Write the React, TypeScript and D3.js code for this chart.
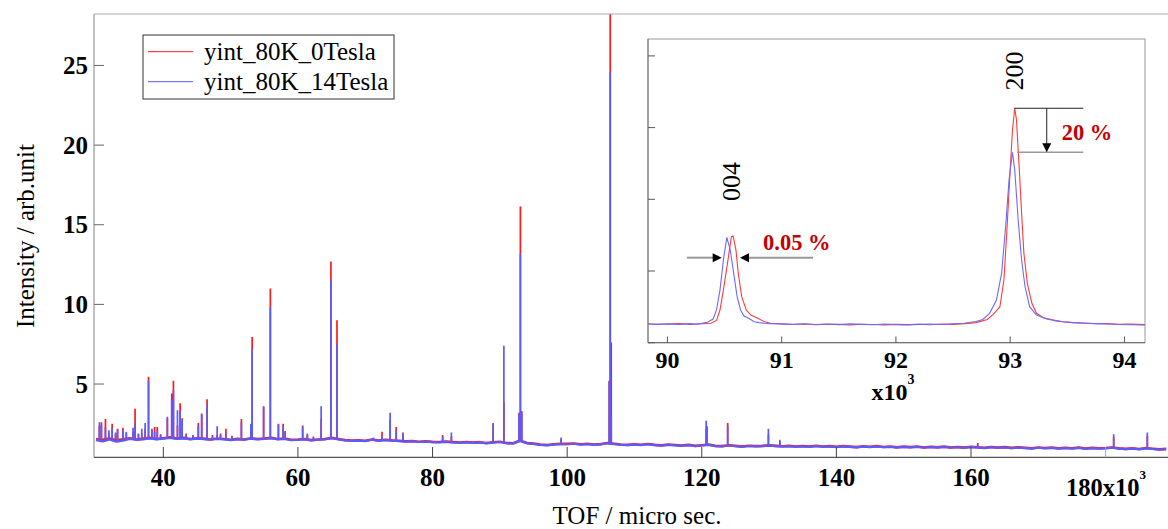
import React from 'react';
import * as d3 from 'd3';

const W = 1168;
const H = 529;
const FONT = "'Liberation Serif', 'Times New Roman', serif";

// main spectrum: baseline sampled every 1 (x10^3 micro sec) starting at 30
const baseStart = 30;
const redBase = [
  1.55, 1.50, 1.58, 1.47, 1.53, 1.60, 1.52, 1.57, 1.62, 1.55,
  1.60, 1.66, 1.58, 1.62, 1.55, 1.60, 1.57, 1.52, 1.58, 1.55,
  1.50, 1.56, 1.52, 1.60, 1.55, 1.58, 1.62, 1.55, 1.58, 1.50,
  1.52, 1.55, 1.48, 1.52, 1.55, 1.62, 1.55, 1.48, 1.45, 1.47,
  1.44, 1.52, 1.45, 1.50, 1.46, 1.44, 1.40, 1.42, 1.38, 1.41,
  1.37, 1.36, 1.39, 1.35, 1.33, 1.36, 1.32, 1.35, 1.30, 1.34,
  1.38, 1.30, 1.28, 1.45, 1.30, 1.26, 1.20, 1.17, 1.22, 1.25,
  1.24, 1.27, 1.22, 1.25, 1.20, 1.23, 1.30, 1.25, 1.20, 1.18,
  1.22, 1.19, 1.24, 1.18, 1.15, 1.20, 1.17, 1.14, 1.18, 1.12,
  1.16, 1.20, 1.12, 1.10, 1.16, 1.12, 1.08, 1.13, 1.10, 1.12,
  1.15, 1.12, 1.09, 1.12, 1.08, 1.11, 1.07, 1.12, 1.08, 1.10,
  1.06, 1.10, 1.07, 1.04, 1.09, 1.06, 1.10, 1.05, 1.08, 1.03,
  1.07, 1.04, 1.08, 1.02, 1.06, 1.03, 1.07, 1.02, 1.05, 1.01,
  1.06, 1.03, 1.00, 1.05, 1.01, 1.04, 0.99, 1.03, 1.00, 0.97,
  1.02, 0.98, 1.01, 0.96, 1.00, 0.97, 1.01, 0.95, 0.99, 0.96,
  0.98, 1.02, 0.96, 0.93, 0.97, 0.92, 0.98, 0.94, 0.90, 0.93,
];
const blueBase = [
  1.48, 1.40, 1.52, 1.38, 1.45, 1.55, 1.50, 1.53, 1.58, 1.52,
  1.57, 1.62, 1.55, 1.58, 1.52, 1.57, 1.54, 1.50, 1.55, 1.52,
  1.48, 1.53, 1.50, 1.57, 1.52, 1.55, 1.60, 1.52, 1.55, 1.48,
  1.50, 1.53, 1.46, 1.50, 1.52, 1.60, 1.52, 1.46, 1.43, 1.45,
  1.42, 1.50, 1.43, 1.48, 1.44, 1.42, 1.38, 1.40, 1.36, 1.39,
  1.35, 1.34, 1.37, 1.33, 1.31, 1.34, 1.30, 1.33, 1.28, 1.32,
  1.36, 1.28, 1.26, 1.43, 1.28, 1.24, 1.18, 1.15, 1.20, 1.23,
  1.22, 1.25, 1.20, 1.23, 1.18, 1.21, 1.28, 1.23, 1.18, 1.16,
  1.20, 1.17, 1.22, 1.16, 1.13, 1.18, 1.15, 1.12, 1.16, 1.10,
  1.14, 1.18, 1.10, 1.08, 1.14, 1.10, 1.06, 1.11, 1.08, 1.10,
  1.13, 1.10, 1.07, 1.10, 1.06, 1.09, 1.05, 1.10, 1.06, 1.08,
  1.04, 1.08, 1.05, 1.02, 1.07, 1.04, 1.08, 1.03, 1.06, 1.01,
  1.05, 1.02, 1.06, 1.00, 1.04, 1.01, 1.05, 1.00, 1.03, 0.99,
  1.04, 1.01, 0.98, 1.03, 0.99, 1.02, 0.97, 1.01, 0.98, 0.95,
  1.00, 0.96, 0.99, 0.94, 0.98, 0.95, 0.99, 0.93, 0.97, 0.94,
  0.96, 1.00, 0.94, 0.91, 0.95, 0.90, 0.96, 0.92, 0.88, 0.91,
];

// Bragg peaks in the main spectrum: [tof, 0 Tesla, 14 Tesla]
const peaks: [number, number, number][] = [
  [30.5, 2.35, 2.6], [30.8, 2.6, 2.45], [31.4, 2.8, 2.3], [31.9, 1.95, 2.1],
  [32.4, 2.5, 2.25], [32.9, 1.85, 1.95], [33.2, 2.2, 2.15], [34.0, 2.25, 2.1],
  [34.5, 1.9, 2.0], [35.5, 2.0, 2.25], [35.8, 3.45, 2.55], [36.3, 1.85, 1.9],
  [36.8, 1.9, 2.2], [37.3, 2.2, 2.55], [37.8, 5.45, 5.2], [38.3, 2.15, 2.2],
  [38.7, 2.3, 2.0], [39.1, 2.3, 2.1], [39.6, 1.85, 1.8], [40.6, 2.85, 2.95],
  [41.25, 4.4, 4.05], [41.5, 5.2, 4.6], [42.1, 2.4, 3.35], [42.5, 3.8, 3.3],
  [42.8, 2.85, 2.7], [43.4, 1.9, 1.85], [44.4, 1.75, 1.8], [45.2, 2.55, 2.4],
  [45.7, 3.1, 3.15], [46.5, 4.05, 3.7], [47.3, 1.8, 1.7], [48.0, 1.8, 2.35],
  [48.5, 1.9, 1.8], [49.3, 2.2, 1.9], [50.2, 1.75, 1.7], [51.6, 2.8, 2.6],
  [53.0, 2.0, 2.5], [53.2, 7.95, 7.2], [54.9, 3.6, 3.55], [55.9, 11.0, 9.8],
  [57.1, 2.5, 2.45], [57.8, 2.5, 2.35], [58.1, 2.0, 2.05], [60.7, 2.4, 2.3],
  [61.4, 1.8, 1.9], [62.3, 1.7, 1.65], [63.45, 2.8, 3.6], [64.9, 12.7, 11.5],
  [65.8, 9.0, 7.5], [71.2, 1.6, 1.65], [72.5, 2.0, 1.75], [73.7, 2.75, 3.2],
  [74.6, 2.3, 2.1], [75.6, 1.95, 1.9], [81.5, 1.8, 1.7], [82.8, 1.7, 1.95],
  [89.0, 2.45, 2.55], [90.6, 3.85, 7.4], [92.85, 3.2, 3.15], [93.05, 16.15, 13.2],
  [93.25, 3.3, 3.2], [99.1, 1.55, 1.65], [106.25, 5.2, 5.15], [106.4, 28.5, 24.6],
  [106.55, 7.6, 3.0], [120.65, 2.2, 2.7], [120.8, 2.0, 2.35], [123.85, 2.55, 2.35],
  [129.9, 1.85, 2.2], [131.6, 1.4, 1.5], [161.0, 1.3, 1.2], [181.2, 1.65, 1.85],
  [186.2, 1.75, 1.95],
];

// inset: zoom on the 004 and 200 reflections
const insetRed: [number, number][] = [
  [89.83, 1.32], [89.9, 1.29], [90.0, 1.30], [90.1, 1.33], [90.2, 1.28], [90.3, 1.32],
  [90.38, 1.36], [90.43, 1.55], [90.46, 2.28], [90.49, 3.67], [90.53, 5.77], [90.56, 7.39],
  [90.575, 7.44], [90.6, 6.46], [90.62, 4.84], [90.65, 3.21], [90.69, 2.28], [90.73, 1.93],
  [90.79, 1.70], [90.85, 1.46], [90.9, 1.36], [91.0, 1.31], [91.1, 1.27], [91.2, 1.30],
  [91.3, 1.25], [91.4, 1.29], [91.5, 1.28], [91.6, 1.24], [91.7, 1.29], [91.8, 1.27],
  [91.9, 1.24], [92.0, 1.28], [92.1, 1.26], [92.2, 1.29], [92.3, 1.25], [92.4, 1.30],
  [92.5, 1.28], [92.6, 1.33], [92.7, 1.40], [92.8, 1.62], [92.86, 2.05], [92.91, 2.51],
  [92.945, 4.37], [92.97, 7.63], [93.0, 12.04], [93.02, 14.83], [93.04, 16.35], [93.055, 15.53],
  [93.08, 12.04], [93.1, 9.02], [93.12, 6.23], [93.15, 4.14], [93.19, 2.75], [93.23, 2.05],
  [93.29, 1.74], [93.38, 1.58], [93.46, 1.46], [93.55, 1.40], [93.65, 1.37], [93.75, 1.32],
  [93.85, 1.34], [93.95, 1.28], [94.05, 1.30], [94.18, 1.26],
];
const insetBlue: [number, number][] = [
  [89.83, 1.30], [89.9, 1.28], [90.0, 1.31], [90.1, 1.27], [90.2, 1.33], [90.25, 1.29],
  [90.3, 1.35], [90.35, 1.42], [90.4, 1.65], [90.43, 2.30], [90.46, 3.67], [90.49, 5.77],
  [90.52, 7.35], [90.55, 6.46], [90.58, 4.84], [90.61, 3.21], [90.64, 2.28], [90.67, 1.86],
  [90.71, 1.70], [90.76, 1.46], [90.8, 1.40], [90.85, 1.36], [90.9, 1.33], [91.0, 1.30],
  [91.1, 1.28], [91.2, 1.32], [91.3, 1.27], [91.4, 1.30], [91.5, 1.26], [91.6, 1.31],
  [91.7, 1.28], [91.8, 1.25], [91.9, 1.30], [92.0, 1.27], [92.1, 1.24], [92.2, 1.28],
  [92.3, 1.30], [92.4, 1.27], [92.5, 1.32], [92.6, 1.36], [92.7, 1.48], [92.76, 1.62],
  [92.82, 2.05], [92.88, 2.98], [92.925, 4.84], [92.96, 8.09], [92.99, 11.35], [93.02, 13.28],
  [93.04, 12.04], [93.07, 8.56], [93.1, 5.77], [93.13, 3.90], [93.17, 2.51], [93.23, 1.93],
  [93.32, 1.65], [93.4, 1.52], [93.46, 1.46], [93.55, 1.40], [93.65, 1.36], [93.75, 1.33],
  [93.85, 1.30], [93.95, 1.27], [94.05, 1.25], [94.18, 1.23],
];

const seriesNames = ['yint_80K_0Tesla', 'yint_80K_14Tesla'];
const seriesColors = ['#ff1a1a', '#5a5aff'];
const mainXTicks = [40, 60, 80, 100, 120, 140, 160, 180];
const mainYTicks = [5, 10, 15, 20, 25];
const insetXTicks = [90, 91, 92, 93, 94];
const insetYTicks = [0, 5, 10, 15, 20];

const App = () => {
  // main plot scales
  const x = d3.scaleLinear().domain([29.7, 189.27]).range([94, 1168]);
  const y = d3.scaleLinear().domain([0.4, 28.23]).range([457.3, 14]);

  // inset scales
  const xi = d3.scaleLinear().domain([89.83, 94.18]).range([648, 1145]);
  const yi = d3.scaleLinear().domain([0, 21.18]).range([342.7, 39]);

  const baseLine = d3
    .line<number>()
    .x((_, i) => x(baseStart + i))
    .y(d => y(d));

  const insetLine = d3
    .line<[number, number]>()
    .x(d => xi(d[0]))
    .y(d => yi(d[1]));

  const spikes = (base: number[], k: number) =>
    peaks
      .map(p => {
        const b = base[Math.round(p[0] - baseStart)];
        return `M${x(p[0])},${y(b)}V${y(p[k])}`;
      })
      .join('');

  // peak heights for the 200 annotation
  const top200 = d3.max(insetRed.filter(d => d[0] > 92.5), d => d[1]) as number;
  const low200 = d3.max(insetBlue.filter(d => d[0] > 92.5), d => d[1]) as number;
  const arrowY004 = 5.93;

  return (
    <svg width={W} height={H} style={{ position: 'absolute', left: 0, top: 0, background: '#fff' }}>
      <defs>
        <clipPath id="mainClip">
          <rect x={94} y={14} width={1168 - 94} height={457.3 - 14} />
        </clipPath>
        <clipPath id="insetClip">
          <rect x={648} y={39} width={1145 - 648} height={342.7 - 39} />
        </clipPath>
      </defs>

      {/* main spectrum */}
      <g clipPath="url(#mainClip)" fill="none">
        <path d={baseLine(redBase) || ''} stroke={seriesColors[0]} strokeWidth={2.6} strokeLinejoin="bevel" />
        <path d={spikes(redBase, 1)} stroke={seriesColors[0]} strokeWidth={1.7} />
        <path d={baseLine(blueBase) || ''} stroke={seriesColors[1]} strokeWidth={2.2} strokeLinejoin="bevel" />
        <path d={spikes(blueBase, 2)} stroke={seriesColors[1]} strokeWidth={1.7} />
      </g>

      {/* main frame */}
      <line x1={94} x2={1168} y1={14} y2={14} stroke="#aaa" />
      <line x1={94} x2={94} y1={14} y2={457.3} stroke="#999" strokeWidth={1.2} />
      <line x1={94} x2={1168} y1={457.3} y2={457.3} stroke="#555" strokeWidth={1.2} />

      {/* y axis */}
      {mainYTicks.map(t => (
        <g key={t}>
          <line x1={94} x2={104} y1={y(t)} y2={y(t)} stroke="#666" />
          <text x={88} y={y(t) + 8.5} textAnchor="end" fontFamily={FONT} fontWeight="bold" fontSize={25}>
            {t}
          </text>
        </g>
      ))}

      {/* x axis */}
      {mainXTicks.map(t => (
        <g key={t}>
          <line x1={x(t)} x2={x(t)} y1={457.3} y2={447} stroke={t === 180 ? '#aaa' : '#444'} />
          {t !== 180 && (
            <text x={x(t)} y={486} textAnchor="middle" fontFamily={FONT} fontWeight="bold" fontSize={25}>
              {t}
            </text>
          )}
        </g>
      ))}
      <text x={1066} y={496} fontFamily={FONT} fontWeight="bold" fontSize={24.5}>
        180x10
        <tspan dy={-17} fontSize={13}>3</tspan>
      </text>

      {/* axis titles */}
      <text x={637} y={524} textAnchor="middle" fontFamily={FONT} fontSize={25}>
        TOF / micro sec.
      </text>
      <text
        transform="translate(34,236) rotate(-90)"
        textAnchor="middle"
        fontFamily={FONT}
        fontSize={25}
      >
        Intensity / arb.unit
      </text>

      {/* legend */}
      <rect x={143} y={35} width={251} height={64} fill="#fff" stroke="#333" />
      {seriesNames.map((name, i) => (
        <g key={name}>
          <line x1={148} x2={193} y1={51.7 + i * 30} y2={51.7 + i * 30} stroke={seriesColors[i]} />
          <text x={204} y={60 + i * 30} fontFamily={FONT} fontSize={25}>
            {name}
          </text>
        </g>
      ))}

      {/* inset */}
      <rect x={648} y={39} width={1145 - 648} height={342.7 - 39} fill="#fff" stroke="#999" />
      <g clipPath="url(#insetClip)" fill="none">
        <path d={insetLine(insetRed) || ''} stroke="#ff3a3a" strokeWidth={1.1} />
        <path d={insetLine(insetBlue) || ''} stroke="#6a6aff" strokeWidth={1.1} />
      </g>
      <line x1={648} x2={648} y1={39} y2={342.7} stroke="#777" />
      <line x1={648} x2={1145} y1={342.7} y2={342.7} stroke="#666" />
      {insetYTicks.map(t => (
        <line key={t} x1={648} x2={655} y1={yi(t)} y2={yi(t)} stroke="#555" />
      ))}
      {insetXTicks.map(t => (
        <g key={t}>
          <line x1={xi(t)} x2={xi(t)} y1={342.7} y2={336.5} stroke="#555" />
          <text x={xi(t)} y={368} textAnchor="middle" fontFamily={FONT} fontWeight="bold" fontSize={24}>
            {t}
          </text>
        </g>
      ))}
      <text x={893} y={400} textAnchor="middle" fontFamily={FONT} fontWeight="bold" fontSize={24}>
        x10
        <tspan dy={-16} fontSize={14}>3</tspan>
      </text>

      {/* reflection labels */}
      <text transform={`translate(${xi(90.635)},${181.5}) rotate(-90)`} textAnchor="middle" fontFamily={FONT} fontSize={26}>
        004
      </text>
      <text transform={`translate(${xi(93.11)},${71}) rotate(-90)`} textAnchor="middle" fontFamily={FONT} fontSize={26}>
        200
      </text>

      {/* 004 shift arrows */}
      <line x1={xi(90.17)} x2={xi(90.4)} y1={yi(arrowY004)} y2={yi(arrowY004)} stroke="#999" strokeWidth={2} />
      <path
        d={`M${xi(90.475)},${yi(arrowY004)}L${xi(90.475) - 9},${yi(arrowY004) - 4.5}L${xi(90.475) - 9},${yi(arrowY004) + 4.5}Z`}
        fill="#000"
      />
      <line x1={xi(90.7)} x2={xi(91.275)} y1={yi(arrowY004)} y2={yi(arrowY004)} stroke="#999" strokeWidth={2} />
      <path
        d={`M${xi(90.635)},${yi(arrowY004)}L${xi(90.635) + 9},${yi(arrowY004) - 4.5}L${xi(90.635) + 9},${yi(arrowY004) + 4.5}Z`}
        fill="#000"
      />
      <text x={763} y={250} fontFamily={FONT} fontWeight="bold" fontSize={22.5} fill="#c40000">
        0.05 %
      </text>

      {/* 200 intensity drop */}
      <line x1={xi(93.035)} x2={xi(93.64)} y1={yi(top200)} y2={yi(top200)} stroke="#222" />
      <line x1={xi(93.06)} x2={xi(93.64)} y1={yi(low200)} y2={yi(low200)} stroke="#999" strokeWidth={1.5} />
      <line x1={xi(93.32)} x2={xi(93.32)} y1={yi(top200)} y2={yi(low200) - 8} stroke="#222" />
      <path
        d={`M${xi(93.32)},${yi(low200)}L${xi(93.32) - 4.5},${yi(low200) - 9}L${xi(93.32) + 4.5},${yi(low200) - 9}Z`}
        fill="#000"
      />
      <text x={1061.7} y={140} fontFamily={FONT} fontWeight="bold" fontSize={22.5} fill="#c40000">
        20 %
      </text>
    </svg>
  );
};

export default App;
